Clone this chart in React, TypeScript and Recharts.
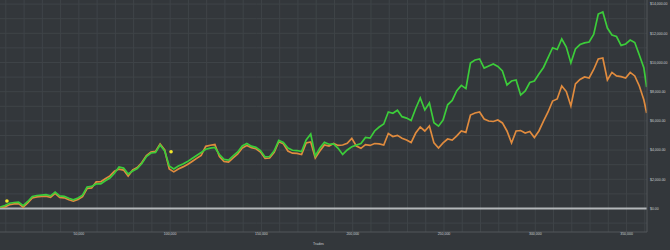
import { LineChart, Line, XAxis, YAxis, ReferenceLine, ReferenceDot } from "recharts"

// trade count for each sample
const trades = [
  7000, 9500, 12000, 14500, 17000, 19500, 22000, 24500, 27000, 29500,
  32000, 34500, 37000, 39500, 42000, 44500, 47000, 49500, 52000, 54500,
  57000, 59500, 62000, 64500, 67000, 69500, 72000, 74500, 77000, 79500,
  82000, 84500, 87000, 89500, 92000, 94500, 97000, 99500, 102000, 104500,
  107000, 109500, 112000, 114500, 117000, 119500, 122000, 124500, 127000, 129500,
  132000, 134500, 137000, 139500, 142000, 144500, 147000, 149500, 152000, 154500,
  157000, 159500, 162000, 164500, 167000, 169500, 172000, 174500, 177000, 179500,
  182000, 184500, 187000, 189500, 192000, 194500, 197000, 199500, 202000, 204500,
  207000, 209500, 212000, 214500, 217000, 219500, 222000, 224500, 227000, 229500,
  232000, 234500, 237000, 239500, 242000, 244500, 247000, 249500, 252000, 254500,
  257000, 259500, 262000, 264500, 267000, 269500, 272000, 274500, 277000, 279500,
  282000, 284500, 287000, 289500, 292000, 294500, 297000, 299500, 302000, 304500,
  307000, 309500, 312000, 314500, 317000, 319500, 322000, 324500, 327000, 329500,
  332000, 334500, 337000, 339500, 342000, 344500, 347000, 349500, 352000, 354500,
  357000, 359500, 361000,
]

// green equity curve
const greenEquity = [
  100, 210, 360, 410, 430, 190, 480, 820, 890, 920,
  950, 870, 1130, 860, 830, 700, 600, 720, 910, 1470,
  1510, 1680, 1690, 1900, 2090, 2410, 2840, 2770, 2360, 2570,
  2740, 3080, 3560, 3800, 3840, 4350, 3940, 2910, 2710, 2910,
  3050, 3210, 3420, 3630, 3840, 4060, 4130, 4180, 3700, 3360,
  3320, 3600, 3870, 4280, 4450, 4270, 4190, 3970, 3530, 3560,
  3950, 4670, 4530, 4140, 3990, 3970, 3900, 4690, 5100, 3600,
  4140, 4530, 4400, 4420, 4120, 3700, 4010, 4230, 4340, 4450,
  4870, 4820, 5310, 5580, 5790, 6610, 6520, 6730, 6290, 6190,
  6030, 6850, 7570, 6750, 7230, 5870, 5640, 6060, 7100, 7400,
  8070, 8430, 8210, 9970, 10170, 10240, 9620, 9760, 9900, 9730,
  9420, 8460, 8730, 8800, 7770, 8050, 8630, 8730, 9210, 9660,
  10340, 11010, 10890, 11610, 11060, 9970, 10930, 11230, 11340, 11400,
  11920, 13320, 13460, 12360, 11880, 11780, 11170, 11270, 11540, 11370,
  10510, 9620, 8320,
]

// orange equity curve
const orangeEquity = [
  100, 110, 260, 310, 330, 90, 380, 720, 790, 820,
  850, 770, 1030, 760, 730, 600, 500, 620, 810, 1370,
  1410, 1820, 1830, 2040, 2230, 2550, 2700, 2630, 2220, 2640,
  2810, 3150, 3630, 3870, 3910, 4420, 4010, 2710, 2510, 2710,
  2850, 3010, 3220, 3430, 3640, 4260, 4330, 4380, 3560, 3220,
  3180, 3460, 3730, 4140, 4310, 4170, 4090, 3870, 3430, 3460,
  3850, 4570, 4430, 3940, 3790, 3770, 3700, 4490, 4560, 3460,
  3940, 4350, 4280, 4450, 4320, 4350, 4470, 4800, 4280, 4120,
  4380, 4320, 4450, 4420, 4350, 5140, 4930, 5010, 4810, 4690,
  4520, 5170, 5580, 5310, 5650, 4490, 4140, 4490, 4760, 4690,
  4970, 5310, 5210, 6400, 6540, 6610, 6130, 5990, 5960, 6060,
  5860, 5310, 4490, 5310, 5340, 5170, 5270, 4860, 5310, 5990,
  6610, 7360, 7500, 8390, 8010, 7020, 8530, 8840, 9010, 8940,
  9520, 10240, 10310, 8800, 9320, 9080, 9030, 8940, 9320, 9080,
  8390, 7430, 6540,
]

// yellow markers
const markerTrades = [10600, 100500]
const markerValues = [510, 3890]

const xTicks = [50000, 100000, 150000, 200000, 250000, 300000, 350000]
const yTicks = [0, 2000, 4000, 6000, 8000, 10000, 12000, 14000]
const xGrid = [
  10000, 20000, 30000, 40000, 50000, 60000, 70000, 80000, 90000, 100000,
  110000, 120000, 130000, 140000, 150000, 160000, 170000, 180000, 190000, 200000,
  210000, 220000, 230000, 240000, 250000, 260000, 270000, 280000, 290000, 300000,
  310000, 320000, 330000, 340000, 350000, 360000,
]
const yGrid = [-1000, 1000, 2000, 3000, 4000, 5000, 6000, 7000, 8000, 9000, 10000, 11000, 12000, 13000, 14000]

const data = trades.map((t, i) => ({ trade: t, green: greenEquity[i], orange: orangeEquity[i] }))

const textColor = "#c9cdd0"
const gridColor = "#3f4448"
const font = "'Liberation Sans', Arial, sans-serif"

export default function App() {
  return (
    <div style={{ position: "fixed", left: 0, top: 0, width: 670, height: 250, background: "#33373b" }}>
      <LineChart width={670} height={250} data={data} margin={{ top: 0, right: 0, left: 0, bottom: 0 }}>
        <XAxis
          type="number"
          dataKey="trade"
          domain={[6800, 361200]}
          allowDataOverflow
          ticks={xTicks}
          height={18}
          tickLine={false}
          tickSize={0}
          tickMargin={1}
          stroke="#52575b"
          tick={{ fontSize: 3.5, fill: textColor, fontFamily: font }}
          tickFormatter={(v: number) => v.toLocaleString("en-US")}
          label={{ value: "Trades", position: "insideBottom", offset: 5, dx: -5, fontSize: 3.5, fill: textColor, fontFamily: font }}
        />
        <YAxis
          orientation="right"
          type="number"
          domain={[-1610, 14280]}
          allowDataOverflow
          ticks={yTicks}
          width={23}
          tickLine={false}
          tickSize={0}
          tickMargin={3}
          stroke="#52575b"
          tick={{ fontSize: 3.5, fill: textColor, fontFamily: font }}
          tickFormatter={(v: number) => "$" + v.toLocaleString("en-US", { minimumFractionDigits: 2, maximumFractionDigits: 2 })}
        />
        {xGrid.map((v) => (
          <ReferenceLine key={"x" + v} x={v} stroke={gridColor} strokeWidth={1} />
        ))}
        {yGrid.map((v) => (
          <ReferenceLine key={"y" + v} y={v} stroke={gridColor} strokeWidth={1} />
        ))}
        <ReferenceLine y={0} stroke="#b3b7ba" strokeWidth={2} />
        <Line type="linear" dataKey="orange" stroke="#e08b3e" strokeWidth={1.7} dot={false} activeDot={false} isAnimationActive={false} />
        <Line type="linear" dataKey="green" stroke="#3ccc3a" strokeWidth={1.7} dot={false} activeDot={false} isAnimationActive={false} />
        {markerTrades.map((t, i) => (
          <ReferenceDot key={t} x={t} y={markerValues[i]} r={1.8} fill="#f3e62a" stroke="none" />
        ))}
      </LineChart>
    </div>
  )
}
